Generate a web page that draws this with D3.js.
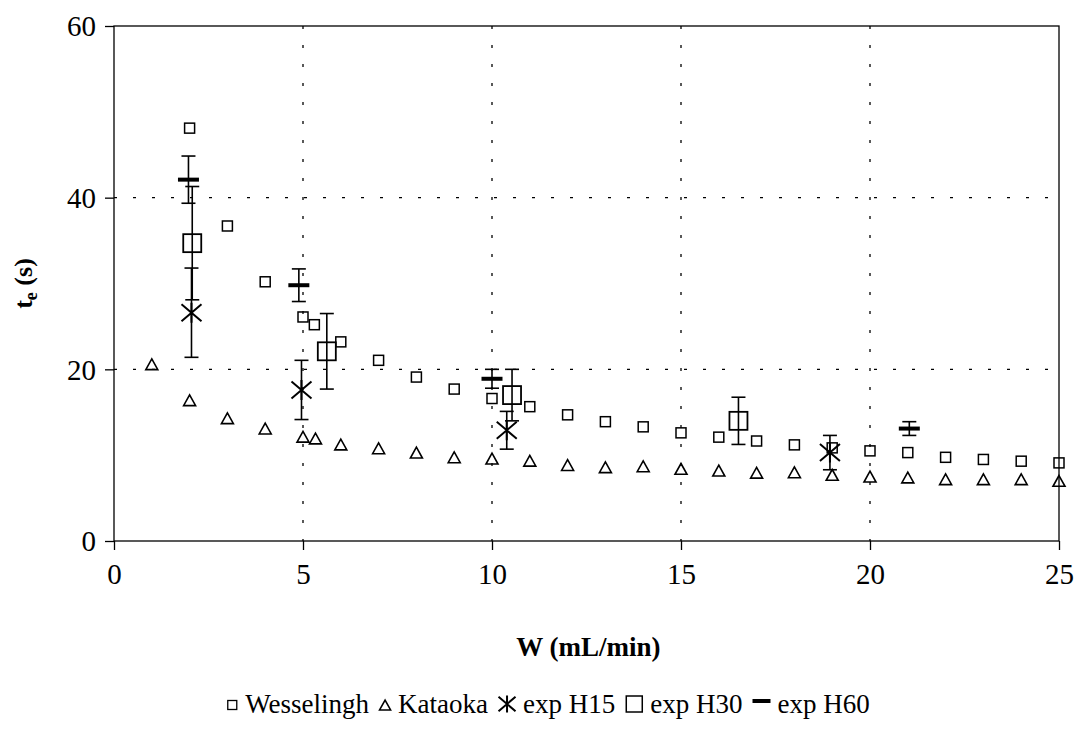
<!DOCTYPE html>
<html>
<head>
<meta charset="utf-8">
<script src="https://cdn.jsdelivr.net/npm/d3@7"></script>
<style>
  body { margin: 0; background: #fff; }
  svg text { font-family: "Liberation Serif", "Tinos", "DejaVu Serif", serif !important; }
</style>
</head>
<body>
<svg id="chart" width="1078" height="743" font-family="Liberation Serif, serif"></svg>
<script>
// Wesselingh (small open squares)
const wessX = [2, 3, 4, 5, 5.3, 6, 7, 8, 9, 10, 11, 12, 13, 14, 15, 16, 17, 18, 19, 20, 21, 22, 23, 24, 25];
const wessY = [48.1, 36.7, 30.2, 26.1, 25.2, 23.2, 21.05, 19.1, 17.7, 16.6, 15.65, 14.7, 13.9, 13.3, 12.6, 12.1, 11.65, 11.2, 10.85, 10.5, 10.3, 9.75, 9.5, 9.3, 9.1];
// Kataoka (small open triangles)
const kataX = [1, 2, 3, 4, 5, 5.33, 6, 7, 8, 9, 10, 11, 12, 13, 14, 15, 16, 17, 18, 19, 20, 21, 22, 23, 24, 25];
const kataY = [20.6, 16.4, 14.3, 13.1, 12.15, 11.95, 11.25, 10.8, 10.3, 9.75, 9.6, 9.35, 8.85, 8.6, 8.7, 8.4, 8.2, 7.95, 8.0, 7.7, 7.5, 7.4, 7.2, 7.2, 7.2, 7.0];
// experiments, with error bars
const h15X = [2.05, 4.96, 10.39, 18.94];
const h15Y = [26.6, 17.6, 12.9, 10.3];
const h15E = [5.2, 3.45, 2.2, 2.0];
const h30X = [2.07, 5.63, 10.53, 16.52];
const h30Y = [34.7, 22.1, 17.0, 14.0];
const h30E = [6.6, 4.4, 3.0, 2.75];
const h60X = [1.97, 4.89, 10.0, 21.04];
const h60Y = [42.1, 29.8, 18.9, 13.1];
const h60E = [2.75, 1.9, 1.1, 0.8];

const xTicks = [0, 5, 10, 15, 20, 25];
const yTicks = [0, 20, 40, 60];
const legendNames = ["Wesselingh", "Kataoka", "exp H15", "exp H30", "exp H60"];

const svg = d3.select("#chart");
const pLeft = 114, pRight = 1059, pTop = 26, pBottom = 541;

const x = d3.scaleLinear().domain([0, 25]).range([pLeft, pRight]);
const y = d3.scaleLinear().domain([0, 60]).range([pBottom, pTop]);

// grid (dotted)
svg.append("g").selectAll("line").data([5, 10, 15, 20]).enter().append("line")
  .attr("x1", d => x(d)).attr("x2", d => x(d)).attr("y1", pTop).attr("y2", pBottom)
  .attr("stroke", "#000").attr("stroke-width", 1.3).attr("stroke-dasharray", "3,16");
svg.append("g").selectAll("line").data([20, 40]).enter().append("line")
  .attr("y1", d => y(d)).attr("y2", d => y(d)).attr("x1", pLeft).attr("x2", pRight)
  .attr("stroke", "#000").attr("stroke-width", 1.3).attr("stroke-dasharray", "3,16");

// frame
svg.append("rect").attr("x", pLeft).attr("y", pTop)
  .attr("width", pRight - pLeft).attr("height", pBottom - pTop)
  .attr("fill", "none").attr("stroke", "#000").attr("stroke-width", 1.3);

// axes
const xAxis = svg.append("g").attr("transform", `translate(0,${pBottom})`)
  .call(d3.axisBottom(x).tickValues(xTicks).tickSize(9).tickPadding(13).tickFormat(d3.format("d")));
const yAxis = svg.append("g").attr("transform", `translate(${pLeft},0)`)
  .call(d3.axisLeft(y).tickValues(yTicks).tickSize(9).tickPadding(9).tickFormat(d3.format("d")));
[xAxis, yAxis].forEach(a => {
  a.attr("font-family", null);
  a.select(".domain").remove();
  a.selectAll("line").attr("stroke", "#000").attr("stroke-width", 1.3);
  a.selectAll("text").attr("fill", "#000").style("font-size", "29px");
});
yAxis.selectAll("text").attr("dy", "0.34em");

// axis titles
svg.append("text").attr("x", (pLeft + pRight) / 2 + 2).attr("y", 656)
  .attr("text-anchor", "middle").style("font-size", "27px").style("font-weight", "bold")
  .text("W (mL/min)");
const yt = svg.append("text").attr("transform", `translate(32,${(pTop + pBottom) / 2}) rotate(-90)`)
  .attr("text-anchor", "middle").style("font-size", "26px").style("font-weight", "bold");
yt.append("tspan").text("t");
yt.append("tspan").attr("dy", 5).style("font-size", "18px").text("e");
yt.append("tspan").attr("dy", -5).text(" (s)");

// marker helpers
function square(g, cx, cy, s, sw) {
  g.append("rect").attr("x", cx - s / 2).attr("y", cy - s / 2).attr("width", s).attr("height", s)
    .attr("fill", "none").attr("stroke", "#000").attr("stroke-width", sw);
}
function triangle(g, cx, cy, s) {
  const h = s * 0.9;
  g.append("path").attr("d", `M${cx},${cy - h / 2}L${cx + s / 2},${cy + h / 2}L${cx - s / 2},${cy + h / 2}Z`)
    .attr("fill", "none").attr("stroke", "#000").attr("stroke-width", 1.6);
}
function star(g, cx, cy, s) {
  const a = s / 2;
  g.append("path").attr("d", `M${cx - a},${cy - a * 0.85}L${cx + a},${cy + a * 0.85}M${cx + a},${cy - a * 0.85}L${cx - a},${cy + a * 0.85}M${cx},${cy - a}L${cx},${cy + a}`)
    .attr("fill", "none").attr("stroke", "#000").attr("stroke-width", 2);
}
function dash(g, cx, cy, w) {
  g.append("line").attr("x1", cx - w / 2).attr("x2", cx + w / 2).attr("y1", cy).attr("y2", cy)
    .attr("stroke", "#000").attr("stroke-width", 4);
}
function errBar(g, xs, ys, es) {
  xs.forEach((xv, i) => {
    const cx = x(xv), y1 = y(ys[i] + es[i]), y2 = y(ys[i] - es[i]);
    g.append("line").attr("x1", cx).attr("x2", cx).attr("y1", y1).attr("y2", y2)
      .attr("stroke", "#000").attr("stroke-width", 1.6);
    [y1, y2].forEach(yy => g.append("line").attr("x1", cx - 7).attr("x2", cx + 7)
      .attr("y1", yy).attr("y2", yy).attr("stroke", "#000").attr("stroke-width", 1.6));
  });
}

const marks = svg.append("g");
wessX.forEach((d, i) => square(marks, x(d), y(wessY[i]), 10, 1.5));
kataX.forEach((d, i) => triangle(marks, x(d), y(kataY[i]), 12));
errBar(marks, h15X, h15Y, h15E);
errBar(marks, h30X, h30Y, h30E);
errBar(marks, h60X, h60Y, h60E);
h15X.forEach((d, i) => star(marks, x(d), y(h15Y[i]), 20));
h30X.forEach((d, i) => square(marks, x(d), y(h30Y[i]), 18, 1.8));
h60X.forEach((d, i) => dash(marks, x(d), y(h60Y[i]), 21));

// legend, laid out left to right and centred
const leg = svg.append("g");
const legY = 713;
const drawers = [
  (g, cx) => square(g, cx, legY - 8, 9, 1.3),
  (g, cx) => triangle(g, cx, legY - 8, 11),
  (g, cx) => star(g, cx, legY - 9, 17),
  (g, cx) => square(g, cx, legY - 9, 16, 1.5),
  (g, cx) => dash(g, cx, legY - 12, 18)
];
let cur = 0;
const items = [];
legendNames.forEach((name, i) => {
  const symW = i >= 2 ? 18 : 12;
  const cx = cur + symW / 2;
  const t = leg.append("text").attr("x", cur + symW + 7).attr("y", legY)
    .style("font-size", "27px").text(name);
  items.push({ i, cx });
  cur += symW + 7 + t.node().getComputedTextLength() + 10;
});
items.forEach(it => drawers[it.i](leg, it.cx));
const total = cur - 10;
leg.attr("transform", `translate(${548 - total / 2},0)`);
</script>
</body>
</html>
